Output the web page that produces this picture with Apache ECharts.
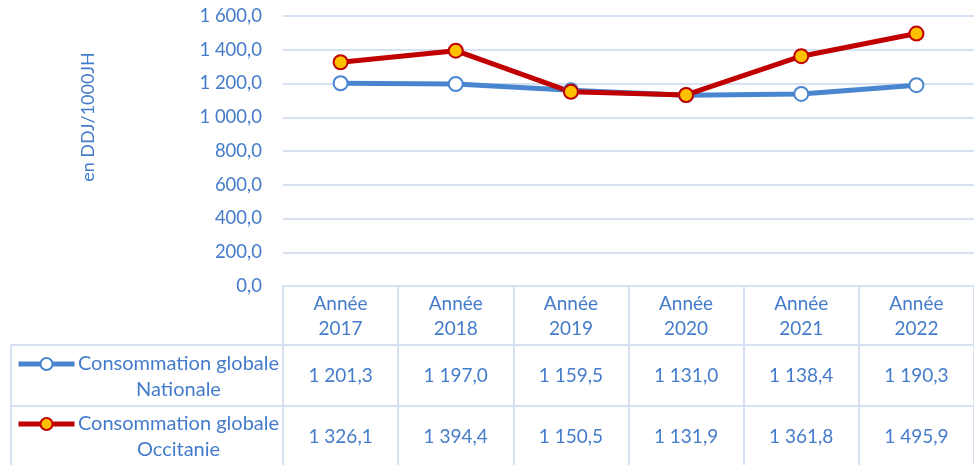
<!DOCTYPE html>
<html>
<head>
<meta charset="utf-8">
<script src="https://cdn.jsdelivr.net/npm/echarts@6/dist/echarts.min.js"></script>
<style>
  html, body { margin: 0; padding: 0; background: #fff; }
  #main { width: 974px; height: 465px; }
</style>
</head>
<body>
<div id="main"></div>
<script>
var chart = echarts.init(document.getElementById('main'));

// données
const years = ['2017', '2018', '2019', '2020', '2021', '2022'];
const nationale = [1201.3, 1197.0, 1159.5, 1131.0, 1138.4, 1190.3];
const occitanie = [1326.1, 1394.4, 1150.5, 1131.9, 1361.8, 1495.9];
const seriesLines = [['Consommation globale', 'Nationale'], ['Consommation globale', 'Occitanie']];
const yMin = 0, yMax = 1600, yStep = 200;
const yName = 'en DDJ/1000JH';

const textColor = '#447CCB';
const gridColor = '#D6E1F2';
const font = 'Lato';
const blue = '#4A86D0';
const red = '#C00000';

function fr(v) {
  const s = v.toFixed(1).split('.');
  return s[0].replace(/\B(?=(\d{3})+(?!\d))/g, ' ') + ',' + s[1];
}

const names = seriesLines.map(function (l) { return l.join(' '); });

function legendFor(i, top) {
  return {
    data: [names[i]],
    left: 11,
    top: top,
    itemWidth: 56,
    itemHeight: 15,
    itemGap: 0,
    selectedMode: false,
    lineStyle: { width: 5 },
    formatter: function () {
      return seriesLines[i].map(function (t) { return '{a|' + t + '}'; }).join('\n');
    },
    textStyle: {
      padding: [26, 0, 0, 0],
      rich: {
        a: { width: 198, align: 'center', fontSize: 20, lineHeight: 26, color: textColor, fontFamily: font }
      }
    }
  };
}

chart.setOption({
  animation: false,
  grid: { left: 283, top: 16, width: 704, height: 270 },
  legend: [legendFor(0, 349), legendFor(1, 409)],
  xAxis: {
    type: 'category',
    data: years,
    boundaryGap: true,
    axisLine: { lineStyle: { color: gridColor, width: 2 } },
    axisTick: { show: true, interval: 0, length: 182, lineStyle: { color: gridColor, width: 2 } },
    axisLabel: {
      interval: 0,
      margin: 5,
      color: textColor,
      fontFamily: font,
      fontSize: 19,
      lineHeight: 25,
      formatter: function (v) { return 'Année\n' + v; }
    }
  },
  yAxis: {
    type: 'value',
    min: yMin,
    max: yMax,
    interval: yStep,
    axisLine: { show: false },
    axisTick: { show: false },
    splitLine: { lineStyle: { color: gridColor, width: 2 } },
    axisLabel: {
      margin: 21,
      color: textColor,
      fontFamily: font,
      fontSize: 18.5,
      formatter: function (v) { return fr(v); }
    }
  },
  series: [{
    name: names[0],
    type: 'line',
    data: nationale,
    symbol: 'circle',
    symbolSize: 14,
    lineStyle: { color: blue, width: 5 },
    itemStyle: { color: '#fff', borderColor: blue, borderWidth: 2 }
  }, {
    name: names[1],
    type: 'line',
    data: occitanie,
    symbol: 'circle',
    symbolSize: 14,
    lineStyle: { color: red, width: 5 },
    itemStyle: { color: '#FFC000', borderColor: red, borderWidth: 2 }
  }]
});

// tableau de données sous le graphique
const rowTops = [345, 406];
const rowH = 61;
const graphics = [{
  type: 'text',
  x: 88, y: 117,
  rotation: Math.PI / 2,
  style: { text: yName, fill: textColor, font: '18px ' + font, align: 'center', verticalAlign: 'middle' }
}, {
  type: 'line',
  shape: { x1: 11, y1: 345, x2: 11, y2: 470 },
  style: { stroke: gridColor, lineWidth: 2 }
}];
rowTops.forEach(function (y) {
  graphics.push({
    type: 'line',
    shape: { x1: 10, y1: y, x2: 974, y2: y },
    style: { stroke: gridColor, lineWidth: 2 }
  });
});
[nationale, occitanie].forEach(function (arr, r) {
  arr.forEach(function (v, i) {
    const x = chart.convertToPixel({ xAxisIndex: 0 }, i);
    graphics.push({
      type: 'text',
      x: x,
      y: rowTops[r] + rowH / 2,
      style: { text: fr(v), fill: textColor, font: '19px ' + font, align: 'center', verticalAlign: 'middle' }
    });
  });
});
chart.setOption({ graphic: graphics });
</script>
</body>
</html>
